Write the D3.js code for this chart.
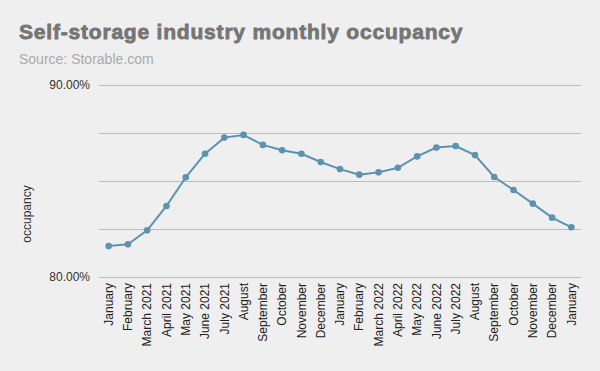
<!DOCTYPE html>
<html><head><meta charset="utf-8">
<script src="https://cdn.jsdelivr.net/npm/d3@7"></script>
<style>body{margin:0;background:#efefef;}svg{display:block;}</style>
</head><body>
<svg id="c" width="600" height="371"></svg>
<script>
const categories = ["January","February","March 2021","April 2021","May 2021","June 2021","July 2021","August","September","October","November","December","January","February","March 2022","April 2022","May 2022","June 2022","July 2022","August","September","October","November","December","January"];
const occupancy = [81.61,81.70,82.43,83.70,85.19,86.42,87.26,87.40,86.88,86.60,86.42,85.99,85.62,85.33,85.45,85.69,86.28,86.74,86.82,86.35,85.21,84.53,83.82,83.09,82.59];
const gridTicks = [80,82.5,85,87.5,90];
const labelTicks = [80,90];

const svg = d3.select("#c");
svg.append("rect").attr("width",600).attr("height",371).attr("fill","#efefef");
const L=99,R=581,T=85,B=277;
const x = d3.scaleBand().domain(d3.range(categories.length)).range([L,R]);
const y = d3.scaleLinear().domain([80,90]).range([B,T]);

svg.append("text").attr("x",19).attr("y",38.5).text("Self-storage industry monthly occupancy")
  .attr("font-family","Liberation Sans, Arial, sans-serif").attr("font-weight","bold").attr("font-size",21)
  .attr("letter-spacing",0.8).attr("fill","#757575").attr("stroke","#757575").attr("stroke-width",0.8);
svg.append("text").attr("x",19).attr("y",63.5).text("Source: Storable.com")
  .attr("font-family","Liberation Sans, Arial, sans-serif").attr("font-size",14).attr("fill","#aaaaaa");

const grid = svg.append("g").attr("transform",`translate(${L},0)`)
  .call(d3.axisLeft(y).tickValues(gridTicks).tickSize(-(R-L)).tickFormat(""));
grid.select(".domain").remove();
grid.selectAll("line").attr("stroke","#bbbbbb").attr("stroke-width",1);

const ya = svg.append("g").attr("transform",`translate(${L-6},0)`)
  .call(d3.axisLeft(y).tickValues(labelTicks).tickSize(0).tickFormat(d=>d3.format(".2f")(d)+"%"));
ya.select(".domain").remove();
ya.selectAll("text").attr("font-family","Liberation Sans, Arial, sans-serif").attr("font-size",12).attr("fill","#333").attr("dy","0.32em");

svg.append("text").attr("transform","translate(31,214) rotate(-90)").attr("text-anchor","middle")
  .text("occupancy").attr("font-family","Liberation Sans, Arial, sans-serif").attr("font-size",12).attr("fill","#333");

const xa = svg.append("g").attr("transform",`translate(0,${B})`)
  .call(d3.axisBottom(x).tickSize(0).tickFormat(i=>categories[i]));
xa.select(".domain").remove();
xa.selectAll("text").attr("font-family","Liberation Sans, Arial, sans-serif").attr("font-size",12).attr("fill","#222")
  .attr("text-anchor","end").attr("transform","rotate(-90)").attr("x",-6).attr("y",0).attr("dy","0.35em");

const cx = i => x(i)+x.bandwidth()/2;
svg.append("path").datum(occupancy)
  .attr("d", d3.line().x((d,i)=>cx(i)).y(d=>y(d)))
  .attr("fill","none").attr("stroke","#5b93b1").attr("stroke-width",2);
svg.selectAll("circle.pt").data(occupancy).join("circle").attr("class","pt")
  .attr("cx",(d,i)=>cx(i)).attr("cy",d=>y(d)).attr("r",3.3).attr("fill","#5b93b1");
</script>
</body></html>
